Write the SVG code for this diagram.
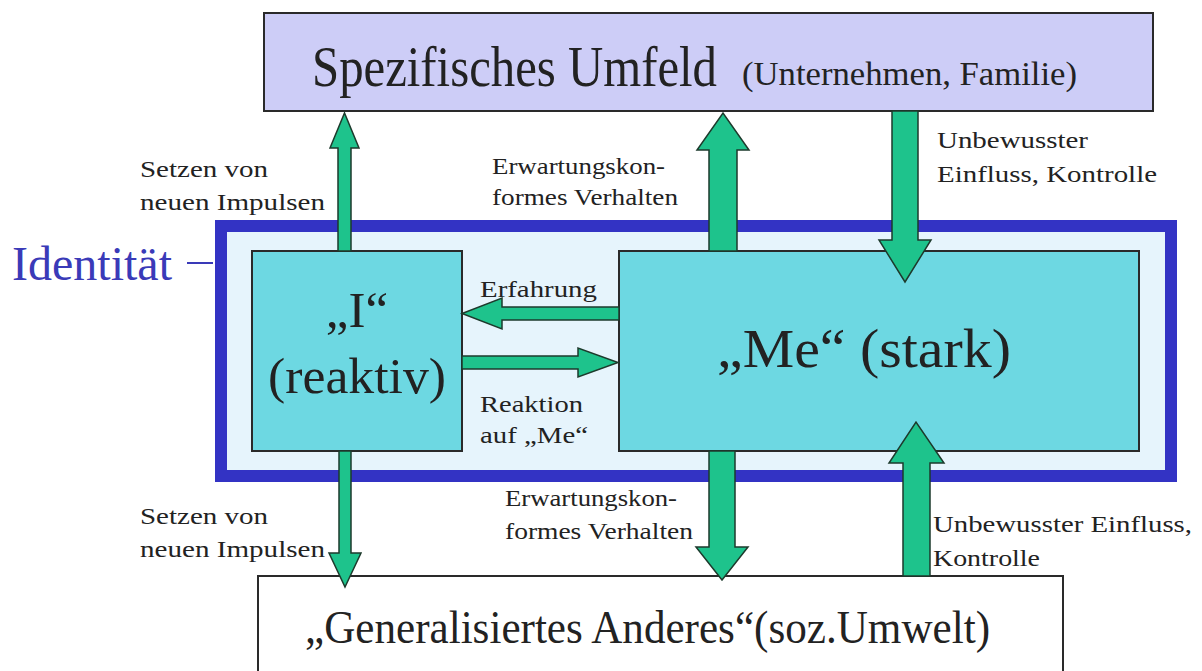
<svg xmlns="http://www.w3.org/2000/svg" width="1202" height="671" viewBox="0 0 1202 671">
<style>
text{font-family:"Liberation Serif","Times New Roman",serif;fill:#222}
.box{stroke:#2a2a2a;stroke-width:2}
.arrow{fill:#1ec38c;stroke:#1d3a2c;stroke-width:1.5;stroke-linejoin:miter}
.lbl{font-size:23px}
</style>
<rect width="1202" height="671" fill="#ffffff"/>
<g id="identitaet">
<rect x="221" y="226" width="950" height="250" fill="#e6f4fc" stroke="#3333c4" stroke-width="12"/>
<line x1="187" y1="263" x2="213" y2="263" stroke="#3a3ab8" stroke-width="2"/>
<text x="12" y="280" font-size="48" style="fill:#3a3ab8" textLength="160" lengthAdjust="spacingAndGlyphs">Identität</text>
</g>
<g id="umfeld">
<rect class="box" x="264" y="13" width="889" height="98" fill="#cdcdf7"/>
<text transform="translate(312,86) scale(1,1.16)" font-size="49" textLength="405" lengthAdjust="spacingAndGlyphs">Spezifisches Umfeld</text>
<text x="742" y="85" font-size="34" textLength="335" lengthAdjust="spacingAndGlyphs">(Unternehmen, Familie)</text>
</g>
<g id="i-node">
<rect class="box" x="252" y="251" width="210" height="200" fill="#6dd8e2"/>
<text x="357" y="327" font-size="51" text-anchor="middle">„I“</text>
<text x="357" y="393" font-size="51" text-anchor="middle" textLength="178" lengthAdjust="spacingAndGlyphs">(reaktiv)</text>
</g>
<g id="me-node">
<rect class="box" x="619" y="251" width="520" height="200" fill="#6dd8e2"/>
<text x="717" y="367" font-size="55" textLength="294" lengthAdjust="spacingAndGlyphs">„Me“ (stark)</text>
</g>
<g id="anderes">
<rect class="box" x="258" y="576" width="805" height="110" fill="#ffffff"/>
<text transform="translate(305,643) scale(1,1.08)" font-size="43" textLength="685" lengthAdjust="spacingAndGlyphs">„Generalisiertes Anderes“(soz.Umwelt)</text>
</g>
<g id="connectors">
<polygon class="arrow" points="338,251 338,148 330,148 344.5,113 359,148 351,148 351,251"/>
<polygon class="arrow" points="709,251 709,150 697,150 723,113 749,150 737,150 737,251"/>
<polygon class="arrow" points="892,111 892,240 879,240 905,282 931,240 918,240 918,111"/>
<polygon class="arrow" points="339,451 339,553 329,553 345,587 361,553 351,553 351,451"/>
<polygon class="arrow" points="709,451 709,547 696,547 722,580 748,547 735,547 735,451"/>
<polygon class="arrow" points="903,576 903,463 889,463 916,422 944,463 930,463 930,576"/>
<polygon class="arrow" points="619,307 502,307 502,298 462,313.5 502,329 502,320 619,320"/>
<polygon class="arrow" points="462,356 578,356 578,348 618,362.5 578,377 578,369 462,369"/>
</g>
<g id="labels">
<text class="lbl" x="140" y="177" textLength="128" lengthAdjust="spacingAndGlyphs">Setzen von</text>
<text class="lbl" x="140" y="210" textLength="185" lengthAdjust="spacingAndGlyphs">neuen Impulsen</text>
<text class="lbl" x="492" y="174" textLength="173" lengthAdjust="spacingAndGlyphs">Erwartungskon-</text>
<text class="lbl" x="492" y="205" textLength="186" lengthAdjust="spacingAndGlyphs">formes Verhalten</text>
<text class="lbl" x="937" y="148" textLength="151" lengthAdjust="spacingAndGlyphs">Unbewusster</text>
<text class="lbl" x="937" y="182" textLength="220" lengthAdjust="spacingAndGlyphs">Einfluss, Kontrolle</text>
<text class="lbl" x="480" y="297" textLength="117" lengthAdjust="spacingAndGlyphs">Erfahrung</text>
<text class="lbl" x="480" y="412" textLength="103" lengthAdjust="spacingAndGlyphs">Reaktion</text>
<text class="lbl" x="480" y="443" textLength="108" lengthAdjust="spacingAndGlyphs">auf „Me“</text>
<text class="lbl" x="140" y="524" textLength="128" lengthAdjust="spacingAndGlyphs">Setzen von</text>
<text class="lbl" x="140" y="557" textLength="185" lengthAdjust="spacingAndGlyphs">neuen Impulsen</text>
<text class="lbl" x="505" y="506" textLength="172" lengthAdjust="spacingAndGlyphs">Erwartungskon-</text>
<text class="lbl" x="505" y="539" textLength="188" lengthAdjust="spacingAndGlyphs">formes Verhalten</text>
<text class="lbl" x="933" y="532" textLength="259" lengthAdjust="spacingAndGlyphs">Unbewusster Einfluss,</text>
<text class="lbl" x="933" y="566" textLength="107" lengthAdjust="spacingAndGlyphs">Kontrolle</text>
</g>
</svg>
